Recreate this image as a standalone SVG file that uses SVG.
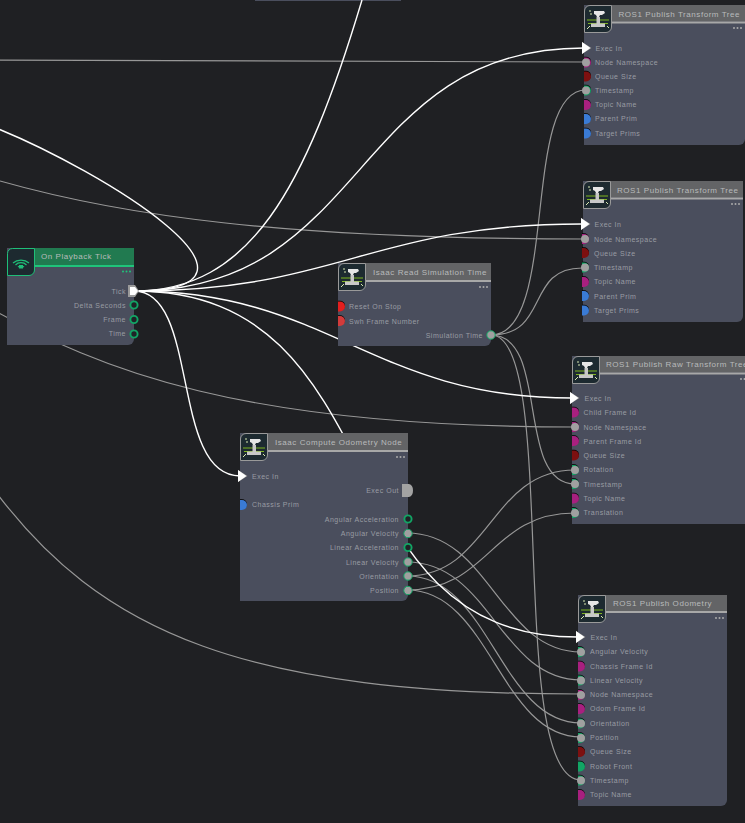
<svg xmlns="http://www.w3.org/2000/svg" width="745" height="823" viewBox="0 0 745 823">
<style>
text{font-family:"Liberation Sans",Arial,sans-serif}
.l{font-size:7px;letter-spacing:.5px;fill:#999ca3}
.e{text-anchor:end}
.t{font-size:8px;letter-spacing:.55px;fill:#b8babb}
.b{fill:#4a4e5d}
.h{fill:#636466}
.s{fill:#a8a8a8}
.w path{fill:none}
.wh path{stroke:#fff;stroke-width:1.4}
.gr path{stroke:#979797;stroke-width:1.2}
.m{fill:#a8207f}.r{fill:#7d1010}.u{fill:#3a7bd5}.g{fill:#12a565}
.ring{fill:#1f2427;stroke:#12a565;stroke-width:1.9}
.conn{fill:#a0a0a0;stroke:#12a565;stroke-width:1}
.d{fill:#aaa}
</style>
<defs>
<g id="port"><path fill="#000" d="M0-5.700h2a5 5 0 0 1 0 10h-2z"/><path d="M0-5h2a5 5 0 0 1 0 10h-2z"/></g>
<g id="exec"><path fill="#8f8f8f" d="M-2-6 7.500 0-2 6z"/><path fill="#fff" d="M-2-6 6.500 0-2 6z"/></g>
<g id="dots"><circle cx="-9" r="1" class="d"/><circle cx="-5.500" r="1" class="d"/><circle cx="-2" r="1" class="d"/></g>
<g id="icon">
<path d="M6 .5H27.500V22a5.500 5.500 0 0 1-5.500 5.500H.5V6A5.500 5.500 0 0 1 6 .5z" fill="#1d2a30" stroke="#9a9a9a"/>
<path d="M3 15H25M4 18.500H24" stroke="#7fb51f" stroke-width="1" fill="none"/>
<path d="M7 18.500h14v3.500H7zM12.500 12h3.500v6.500h-3.500z" fill="#c8c8c8"/>
<path d="M10 6h10l1 2-3 2h-2l-1 2h-2l-1-2-2-1z" fill="#e6e6e6"/>
<path d="M5 6h2M6 9h2M3 24l3-3M25 23l-2-2" stroke="#d8e8b0" stroke-width="1" fill="none"/>
</g>
</defs>
<rect width="745" height="823" fill="#1f2023"/>
<rect x="255" y="0" width="146" height="1" class="b"/>
<g id="connectors" class="w">
<g class="gr">
<path d="M-10 60C200 62 400 62 586 62"/>
<path d="M0 181C120 215 280 239 586 239"/>
<path d="M-10 308C100 370 240 427 576 427"/>
<path d="M-10 484C100 636 250 694 580 694"/>
<path d="M491 335C560 335 520 90 586 90"/>
<path d="M491 335C550 335 525 268 582 268"/>
<path d="M491 335C550 335 515 484 575 484"/>
<path d="M491 335C560 335 505 780 581 780"/>
<path d="M407 576C490 576 490 470 575 470"/>
<path d="M407 590C490 590 490 513 575 513"/>
<path d="M407 533C490 533 500 652 581 652"/>
<path d="M407 562C490 562 500 680 581 680"/>
<path d="M407 576C490 576 500 723 581 723"/>
<path d="M407 590C490 590 500 737 581 737"/>
</g>
<g class="wh">
<path d="M134 291C250 291 305 190 362 0"/>
<path d="M134 291C370 291 350 48 584 48"/>
<path d="M134 291C340 291 370 224 582 224"/>
<path d="M134 291C330 291 370 398 572 398"/>
<path d="M134 291C400 291 320 637 578 637"/>
<path d="M134 291C200 291 170 476 240 476"/>
<path d="M134 291C300 291 100 170 -4 128"/>
</g>
</g>
<g id="on-playback-tick">
<path class="b" d="M7 248H134V339a6 6 0 0 1-6 6H7z"/>
<rect x="34" y="248" width="100" height="17" fill="#217a50"/>
<rect x="34" y="265" width="100" height="2" fill="#1fc47a"/>
<path d="M12.500 248.500H34.500V270a5.500 5.500 0 0 1-5.500 5.500H7.500V253.500a5 5 0 0 1 5-5z" fill="#1d2a30" stroke="#1fbf78"/>
<path d="M13 263a11 9 0 0 1 16 0M15.500 265a7 6 0 0 1 11 0M18 267a4 3 0 0 1 6 0" fill="none" stroke="#1fbf78" stroke-width="1.200"/>
<rect x="19" y="265" width="4" height="3.500" fill="#1fbf78"/>
<text class="t" x="41" y="259">On Playback Tick</text>
<g style="--x:0"><circle cx="123" cy="271.500" r="1" fill="#1fc47a"/><circle cx="126.500" cy="271.500" r="1" fill="#1fc47a"/><circle cx="130" cy="271.500" r="1" fill="#1fc47a"/></g>
<text class="l e" x="126" y="293.500">Tick</text><text class="l e" x="126" y="307.500">Delta Seconds</text><text class="l e" x="126" y="322">Frame</text><text class="l e" x="126" y="336">Time</text>
<path d="M128 285H135L139 291 135 297H128z" fill="#9a9a9a"/><path d="M130 287H135L138 291 135 295H130z" fill="#fff"/>
<circle cx="134" cy="305" r="3.600" class="ring"/><circle cx="134" cy="319.500" r="3.600" class="ring"/><circle cx="134" cy="334" r="3.600" class="ring"/>
</g>
<g id="isaac-read-simulation-time">
<path class="b" d="M338 263H491V340a6 6 0 0 1-6 6H338z"/>
<rect x="365" y="263" width="126" height="17" class="h"/><rect x="365" y="280" width="126" height="2" class="s"/>
<use href="#icon" x="338" y="263"/>
<text class="t" x="373" y="274.500">Isaac Read Simulation Time</text>
<use href="#dots" x="489" y="287"/>
<use href="#port" x="338" y="306.500" fill="#e21f1f"/><use href="#port" x="338" y="321" fill="#d23b3b"/>
<text class="l" x="349" y="309">Reset On Stop</text><text class="l" x="349" y="323.500">Swh Frame Number</text><text class="l e" x="483" y="337.500">Simulation Time</text>
<circle cx="491" cy="335" r="4.200" class="conn"/>
</g>
<g id="isaac-compute-odometry-node">
<path class="b" d="M240 433H408V595a6 6 0 0 1-6 6H240z"/>
<rect x="268" y="433" width="140" height="17" class="h"/><rect x="268" y="450" width="140" height="2" class="s"/>
<use href="#icon" x="240" y="433"/>
<text class="t" x="275" y="444.500">Isaac Compute Odometry Node</text>
<use href="#dots" x="406" y="457"/>
<use href="#exec" x="240" y="476"/>
<text class="l" x="252" y="479">Exec In</text><text class="l e" x="399" y="493">Exec Out</text><text class="l" x="252" y="507">Chassis Prim</text>
<text class="l e" x="399" y="522">Angular Acceleration</text><text class="l e" x="399" y="536">Angular Velocity</text><text class="l e" x="399" y="550">Linear Acceleration</text><text class="l e" x="399" y="564.500">Linear Velocity</text><text class="l e" x="399" y="578.500">Orientation</text><text class="l e" x="399" y="593">Position</text>
<path d="M402 484H409a5 6.500 0 0 1 4 6.500 5 6.500 0 0 1-4 6.500H402z" fill="#a3a3a3"/>
<use href="#port" x="240" y="505" class="u"/>
<circle cx="408" cy="519" r="3.600" class="ring"/><circle cx="408" cy="547.500" r="3.600" class="ring"/>
<circle cx="408" cy="533.500" r="4.200" class="conn"/><circle cx="408" cy="562" r="4.200" class="conn"/><circle cx="408" cy="576" r="4.200" class="conn"/><circle cx="408" cy="590.500" r="4.200" class="conn"/>
</g>
<g id="ros1-publish-transform-tree-1">
<path class="b" d="M584 5H745V139a6 6 0 0 1-6 6H584z"/>
<rect x="611" y="5" width="134" height="16.500" class="h"/><rect x="611" y="21.500" width="134" height="2" class="s"/>
<use href="#icon" x="584" y="5"/>
<text class="t" x="618.500" y="16.500">ROS1 Publish Transform Tree</text>
<use href="#dots" x="743" y="28"/>
<use href="#exec" x="584" y="48"/><use href="#port" x="584" y="62.500" class="m"/><use href="#port" x="584" y="76.500" class="r"/><use href="#port" x="584" y="90.500" class="g"/><use href="#port" x="584" y="105" class="m"/><use href="#port" x="584" y="119" class="u"/><use href="#port" x="584" y="133.500" class="u"/>
<circle cx="586" cy="62.500" r="4" fill="#a0a0a0"/><circle cx="586" cy="90.500" r="4" fill="#a0a0a0"/>
<text class="l" x="595.500" y="50.500">Exec In</text><text class="l" x="595" y="65">Node Namespace</text><text class="l" x="595" y="78.500">Queue Size</text><text class="l" x="595" y="93">Timestamp</text><text class="l" x="595" y="107">Topic Name</text><text class="l" x="595" y="121">Parent Prim</text><text class="l" x="595" y="135.500">Target Prims</text>
</g>
<g id="ros1-publish-transform-tree-2">
<path class="b" d="M583 181H743V316a6 6 0 0 1-6 6H583z"/>
<rect x="610" y="181" width="133" height="16.500" class="h"/><rect x="610" y="197.500" width="133" height="2" class="s"/>
<use href="#icon" x="583" y="181"/>
<text class="t" x="617" y="192.500">ROS1 Publish Transform Tree</text>
<use href="#dots" x="741" y="204"/>
<use href="#exec" x="583" y="224"/><use href="#port" x="582" y="239" class="m"/><use href="#port" x="582" y="253" class="r"/><use href="#port" x="582" y="267.500" class="g"/><use href="#port" x="582" y="282" class="m"/><use href="#port" x="582" y="296" class="u"/><use href="#port" x="582" y="310.500" class="u"/>
<circle cx="585" cy="239" r="4" fill="#a0a0a0"/><circle cx="585" cy="267.500" r="4" fill="#a0a0a0"/>
<text class="l" x="594.500" y="226.500">Exec In</text><text class="l" x="594" y="241.500">Node Namespace</text><text class="l" x="594" y="255.500">Queue Size</text><text class="l" x="594" y="270">Timestamp</text><text class="l" x="594" y="284">Topic Name</text><text class="l" x="594" y="298.500">Parent Prim</text><text class="l" x="594" y="312.500">Target Prims</text>
</g>
<g id="ros1-publish-raw-transform-tree">
<path class="b" d="M572 356H745V524H572z"/>
<rect x="599" y="356" width="146" height="16.500" class="h"/><rect x="599" y="372.500" width="146" height="2" class="s"/>
<use href="#icon" x="572" y="356"/>
<text class="t" x="606" y="367">ROS1 Publish Raw Transform Tree</text>
<use href="#dots" x="750" y="379"/>
<use href="#exec" x="572" y="398"/><use href="#port" x="572" y="412.500" class="m"/><use href="#port" x="572" y="427" class="m"/><use href="#port" x="572" y="441" class="m"/><use href="#port" x="572" y="455.500" class="r"/><use href="#port" x="572" y="470" class="g"/><use href="#port" x="572" y="484" class="g"/><use href="#port" x="572" y="498.500" class="m"/><use href="#port" x="572" y="513" class="g"/>
<circle cx="575" cy="427" r="4" fill="#a0a0a0"/><circle cx="575" cy="470" r="4" fill="#a0a0a0"/><circle cx="575" cy="484" r="4" fill="#a0a0a0"/><circle cx="575" cy="513" r="4" fill="#a0a0a0"/>
<text class="l" x="584.500" y="400.500">Exec In</text><text class="l" x="583.500" y="415">Child Frame Id</text><text class="l" x="583.500" y="429.500">Node Namespace</text><text class="l" x="583.500" y="443.500">Parent Frame Id</text><text class="l" x="583.500" y="458">Queue Size</text><text class="l" x="583.500" y="472">Rotation</text><text class="l" x="583.500" y="486.500">Timestamp</text><text class="l" x="583.500" y="500.500">Topic Name</text><text class="l" x="583.500" y="515">Translation</text>
</g>
<g id="ros1-publish-odometry">
<path class="b" d="M578 595H727V800a6 6 0 0 1-6 6H578z"/>
<rect x="605" y="595" width="122" height="16" class="h"/><rect x="605" y="611" width="122" height="2" class="s"/>
<use href="#icon" x="578" y="595"/>
<text class="t" x="613" y="606">ROS1 Publish Odometry</text>
<use href="#dots" x="725" y="618"/>
<use href="#exec" x="578" y="637"/><use href="#port" x="578" y="652" class="g"/><use href="#port" x="578" y="666.500" class="m"/><use href="#port" x="578" y="680.500" class="g"/><use href="#port" x="578" y="695" class="m"/><use href="#port" x="578" y="709" class="m"/><use href="#port" x="578" y="723.500" class="g"/><use href="#port" x="578" y="738" class="g"/><use href="#port" x="578" y="752" class="r"/><use href="#port" x="578" y="766.500" class="g"/><use href="#port" x="578" y="780.500" class="g"/><use href="#port" x="578" y="795" class="m"/>
<circle cx="581" cy="652" r="4" fill="#a0a0a0"/><circle cx="581" cy="680.500" r="4" fill="#a0a0a0"/><circle cx="581" cy="695" r="4" fill="#a0a0a0"/><circle cx="581" cy="723.500" r="4" fill="#a0a0a0"/><circle cx="581" cy="738" r="4" fill="#a0a0a0"/><circle cx="581" cy="780.500" r="4" fill="#a0a0a0"/>
<text class="l" x="590.500" y="640">Exec In</text><text class="l" x="590" y="654">Angular Velocity</text><text class="l" x="590" y="668.500">Chassis Frame Id</text><text class="l" x="590" y="683">Linear Velocity</text><text class="l" x="590" y="697">Node Namespace</text><text class="l" x="590" y="711">Odom Frame Id</text><text class="l" x="590" y="725.500">Orientation</text><text class="l" x="590" y="740">Position</text><text class="l" x="590" y="754">Queue Size</text><text class="l" x="590" y="768.500">Robot Front</text><text class="l" x="590" y="782.500">Timestamp</text><text class="l" x="590" y="797">Topic Name</text>
</g>
</svg>
